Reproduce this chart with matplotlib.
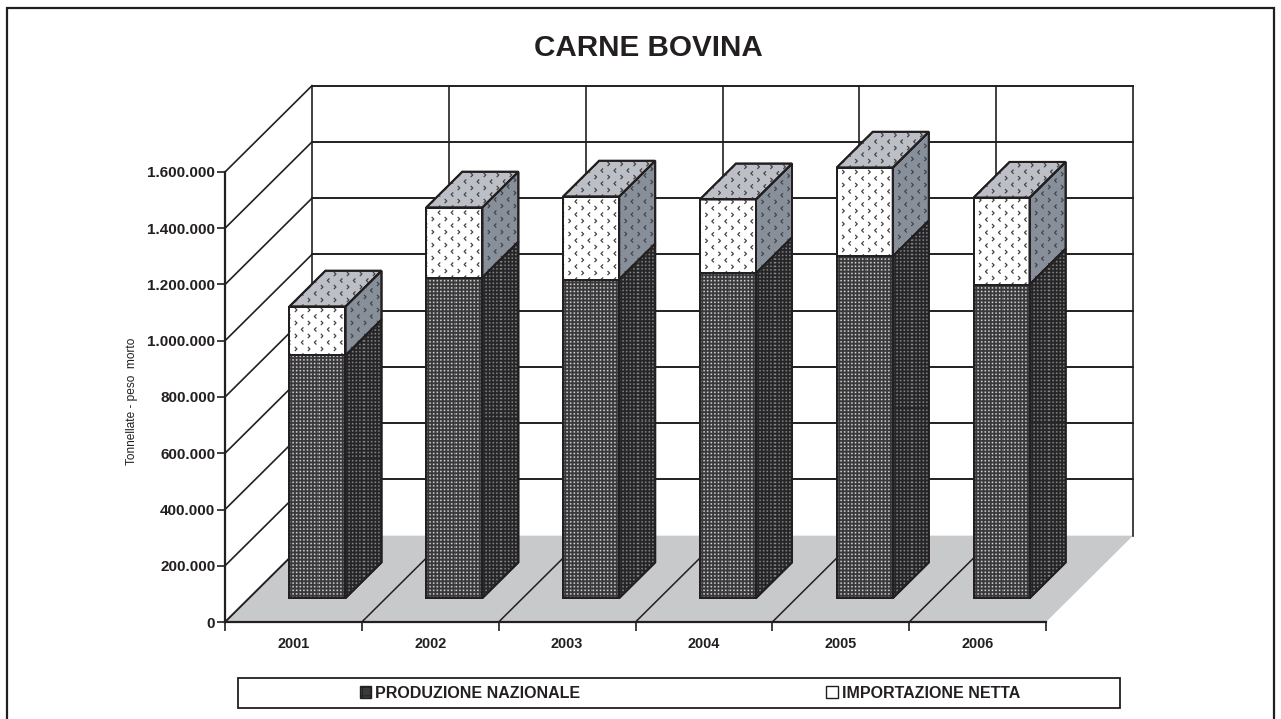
#! /usr/bin/env python3
# coding: utf-8

import numpy as np
import matplotlib
matplotlib.use('Agg')
import matplotlib.pyplot as plt
from matplotlib.colors import to_rgb
from matplotlib.patches import Polygon, Patch, Rectangle
from matplotlib.path import Path

plt.rcParams['font.family'] = ['Liberation Sans', 'DejaVu Sans']
plt.rcParams['hatch.color'] = 'white'
plt.rcParams['hatch.linewidth'] = 0.6

WIDTH, HEIGHT = 1281, 719
INK = '#231f20'

YEARS = ['2001', '2002', '2003', '2004', '2005', '2006']
PRODUZIONE = [863000, 1140000, 1133000, 1155000, 1215000, 1115000]
IMPORTAZIONE = [174000, 249000, 295000, 263000, 316000, 309000]
Y_TICKS = [0, 200000, 400000, 600000, 800000, 1000000, 1200000, 1400000, 1600000]
Y_TICK_LABELS = ['0', '200.000', '400.000', '600.000', '800.000', '1.000.000',
                 '1.200.000', '1.400.000', '1.600.000']

# 3d look: depth 1 is the back wall
DEPTH_X = 0.636
DEPTH_Y = 307000
BAR_WIDTH = 0.41
BAR_FRONT = 0.276
BAR_BACK = 0.69
DOT_PERIOD = 3.6

CHEVRON_R = Path([(-0.5, -1), (0.5, 0), (-0.5, 1)], [Path.MOVETO, Path.LINETO, Path.LINETO])
CHEVRON_L = Path([(0.5, -1), (-0.5, 0), (0.5, 1)], [Path.MOVETO, Path.LINETO, Path.LINETO])


def px_rect(left, top, right, bottom):
    return [left / WIDTH, 1 - bottom / HEIGHT, (right - left) / WIDTH, (bottom - top) / HEIGHT]


def project(x, y, depth):
    return x + depth * DEPTH_X, y + depth * DEPTH_Y


def face(ax, points, color, edge=INK, lw=1.4):
    poly = Polygon(points, closed=True, facecolor=color, edgecolor=edge, linewidth=lw,
                   clip_on=False, zorder=3, joinstyle='miter')
    ax.add_patch(poly)
    return poly


def clip_to(coll, poly):
    coll.set_clip_box(None)
    coll.set_clip_path(poly)


def outline(ax, poly):
    ax.add_patch(Polygon(poly.get_xy(), closed=True, fill=False, edgecolor=INK, linewidth=1.4,
                         clip_on=False, zorder=3))


def dots(ax, poly, base, light):
    # dot screen as a texture, a marker grid gives stripes at this size
    xs, ys = poly.get_xy()[:, 0], poly.get_xy()[:, 1]
    w = int(round((xs.max() - xs.min()) * PX_X))
    h = int(round((ys.max() - ys.min()) * PX_Y))
    gx, gy = np.meshgrid(np.arange(w), np.arange(h))
    t = ((1 + np.cos(2 * np.pi * gx / DOT_PERIOD)) * (1 + np.cos(2 * np.pi * gy / DOT_PERIOD)) / 4) ** 1.5
    low, high = np.array(to_rgb(base)), np.array(to_rgb(light))
    img = low + t[..., None] * (high - low)
    im = ax.imshow(img, extent=(xs.min(), xs.max(), ys.min(), ys.max()), origin='lower', aspect='auto',
                   interpolation='nearest', zorder=3)
    im.set_clip_box(fig.bbox)
    im.set_clip_path(poly)


def chevrons(ax, poly, step_x, step_y):
    xs, ys = poly.get_xy()[:, 0], poly.get_xy()[:, 1]
    rows = np.arange(ys.min(), ys.max(), step_y)
    for n, row in enumerate(rows):
        cols = np.arange(xs.min() + (n % 2) * step_x / 2, xs.max(), step_x)
        marker = CHEVRON_R if n % 2 else CHEVRON_L
        coll = ax.scatter(cols, [row] * len(cols), s=9, marker=marker, facecolors='none',
                          edgecolors='#444446', linewidths=0.9, zorder=3)
        clip_to(coll, poly)
    outline(ax, poly)


def box(ax, left, low, high, colors, pattern):
    right = left + BAR_WIDTH
    fx0, fy0 = project(left, low, BAR_FRONT)
    fx1, fy1 = project(right, high, BAR_FRONT)
    bx1, by0 = project(right, low, BAR_BACK)
    bx1, by1 = project(right, high, BAR_BACK)
    bx0, _ = project(left, high, BAR_BACK)
    front = face(ax, [(fx0, fy0), (fx1, fy0), (fx1, fy1), (fx0, fy1)], colors[0])
    side = face(ax, [(fx1, fy0), (bx1, by0), (bx1, by1), (fx1, fy1)], colors[1])
    faces = [front, side]
    if colors[2]:
        faces.append(face(ax, [(fx0, fy1), (fx1, fy1), (bx1, by1), (bx0, by1)], colors[2]))
    pattern(ax, faces)


def dark_pattern(ax, faces):
    dots(ax, faces[0], '#38383a', '#e0e0e0')
    dots(ax, faces[1], '#252527', '#8c8c8c')
    for poly in faces:
        outline(ax, poly)


def light_pattern(ax, faces):
    for poly in faces:
        chevrons(ax, poly, 13 / PX_X, 6.5 / PX_Y)


fig = plt.figure(figsize=(WIDTH / 100, HEIGHT / 100), dpi=100, facecolor='white')
ax = fig.add_axes(px_rect(225, 172, 1046, 622))
ax.set_xlim(0, len(YEARS))
ax.set_ylim(0, 1600000)
ax.set_autoscale_on(False)
ax.patch.set_visible(False)
PX_X = 821 / len(YEARS)
PX_Y = 450 / 1600000

# floor
floor = [project(0, 0, 0), project(6, 0, 0), project(6, 0, 1), project(0, 0, 1)]
ax.add_patch(Polygon(floor, closed=True, facecolor='#c8c9cb', edgecolor='none', clip_on=False, zorder=1))

# walls
for value in Y_TICKS[1:]:
    x0, y0 = project(0, value, 1)
    x1, y1 = project(6, value, 1)
    ax.plot([x0, x1], [y0, y1], color=INK, lw=1.4, clip_on=False, zorder=2)
    ax.plot([0, x0], [value, y0], color=INK, lw=1.2, clip_on=False, zorder=2)
ax.plot([0, DEPTH_X], [0, DEPTH_Y], color=INK, lw=1.4, clip_on=False, zorder=2)
for i in range(1, 7):
    xb, yb = project(i, 0, 1)
    xt, yt = project(i, 1600000, 1)
    ax.plot([xb, xt], [yb, yt], color=INK, lw=1.2, clip_on=False, zorder=2)
    if i < 6:
        ax.plot([i, xb], [0, yb], color=INK, lw=1.1, clip_on=False, zorder=2)
xb, yb = project(0, 0, 1)
xt, yt = project(0, 1600000, 1)
ax.plot([xb, xt], [yb, yt], color=INK, lw=1.2, clip_on=False, zorder=2)

# bars
for i, (prod, imp) in enumerate(zip(PRODUZIONE, IMPORTAZIONE)):
    left = i + (1 - BAR_WIDTH) / 2
    box(ax, left, prod, prod + imp, ('white', '#87909a', '#bcc0c6'), light_pattern)
    box(ax, left, 0, prod, ('#3a3a3c', '#262628', None), dark_pattern)

# axes
for side in ('top', 'right'):
    ax.spines[side].set_visible(False)
for side in ('left', 'bottom'):
    ax.spines[side].set_linewidth(1.6)
    ax.spines[side].set_color(INK)
    ax.spines[side].set_zorder(5)
ax.set_yticks(Y_TICKS, Y_TICK_LABELS, fontsize=11, fontweight='bold', color=INK)
ax.set_xticks(range(7), [''] * 7)
ax.set_xticks(np.arange(6) + 0.5, YEARS, minor=True, fontsize=10.4, fontweight='bold', color=INK)
ax.tick_params(axis='x', which='major', length=6.5, width=1.2, color=INK, direction='out')
ax.tick_params(axis='x', which='minor', length=0, pad=11)
ax.tick_params(axis='y', length=6, width=1.2, color=INK, pad=1)
ax.set_ylabel('Tonnellate - peso  morto', fontsize=8.6, color=INK)
ax.yaxis.set_label_coords((138 - 225) / 821, (622 - 401) / 450)

fig.text(648 / WIDTH, 1 - 48 / HEIGHT, 'CARNE BOVINA', ha='center', va='center', fontsize=21.3,
         fontweight='bold', color=INK)

# outer frame, open at the bottom
fig.add_artist(Rectangle((7 / WIDTH, -0.05), 1267 / WIDTH, 1.05 - 8 / HEIGHT, transform=fig.transFigure,
                         fill=False, edgecolor=INK, linewidth=1.6))

# legend
fig.add_artist(Rectangle((238 / WIDTH, 1 - 708 / HEIGHT), 882 / WIDTH, 30 / HEIGHT, transform=fig.transFigure,
                         fill=False, edgecolor=INK, linewidth=1.3))
handles = [Patch(facecolor='#3a3a3c', edgecolor=INK, hatch='++', label='PRODUZIONE NAZIONALE'),
           Patch(facecolor='white', edgecolor=INK, label='IMPORTAZIONE NETTA')]
legend = fig.legend(handles=handles, ncol=2, frameon=False, loc='center',
                    bbox_to_anchor=(690 / WIDTH, 1 - 693 / HEIGHT),
                    prop={'size': 11.5, 'weight': 'bold'}, handlelength=0.7, handleheight=0.7,
                    handletextpad=0.25, columnspacing=15.4, borderpad=0)
for text in legend.get_texts():
    text.set_color(INK)

fig.savefig('out.png', dpi=100, facecolor='white')
